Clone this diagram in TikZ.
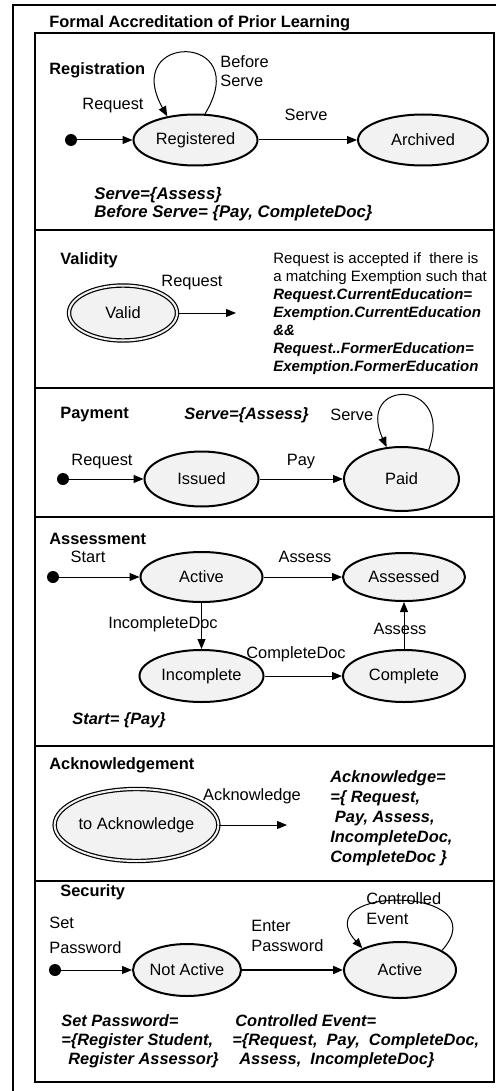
\documentclass[tikz,border=0pt]{standalone}
\usepackage{fontspec}
\setmainfont{Liberation Sans}
\usetikzlibrary{arrows.meta,shapes.geometric}

\definecolor{stategray}{RGB}{242,242,242}
\newcommand{\tfont}[1]{\fontsize{8.2}{#1}\selectfont}

\tikzset{
  state/.style={ellipse, draw, line width=1pt, fill=stategray, inner sep=0pt},
  final/.style={ellipse, draw, line width=0.6pt, double=stategray, double distance=1pt, fill=stategray, inner sep=0pt},
  initdot/.style={circle, fill=black, inner sep=0pt, minimum size=6pt},
  arr/.style={-{Triangle[length=5pt,width=4pt]}, line width=0.5pt},
  heading/.style={font=\tfont{9.5}\bfseries, anchor=west, inner sep=0pt},
  lbl/.style={inner sep=0pt},
  rule/.style={font=\tfont{9}\bfseries\itshape, anchor=west, inner sep=0pt, align=left},
}

\begin{document}
\begin{tikzpicture}[x=0.5pt,y=-0.5pt,font=\tfont{9.5}]
\useasboundingbox (0,0) rectangle (496,1091);
% frames
\draw[line width=0.6pt] (13,1100) -- (13,5) -- (510,5);
\draw[line width=0.6pt] (35,33) rectangle (494,1082);
\foreach \y in {230,388,517,746,881}
  \draw[line width=0.6pt] (35,\y) -- (494,\y);
\node[heading] (title) at (49,23) {Formal Accreditation of Prior Learning};

% registration
\node[heading] (hreg) at (49,70) {Registration};
\node[initdot] (regstart) at (71,140) {};
\node[state, minimum width=62pt, minimum height=25.5pt] (reg) at (195.5,140) {Registered};
\node[state, minimum width=65pt, minimum height=25.5pt] (arch) at (423,140) {Archived};
\draw[arr] (regstart) -- (reg);
\draw[arr] (reg) -- (arch);
\draw[arr] (reg.70) .. controls (255,32) and (120,32) .. (reg.140);
\node[lbl] (lreq) at (113,106) {Request};
\node[lbl] (lserve) at (306,115) {Serve};
\node[lbl, anchor=north west, align=left] (lbefore) at (220,55) {Before\\Serve};
\node[rule, font=\fontsize{8.4}{7.5}\selectfont\bfseries\itshape, anchor=north west] (rreg) at (94,187) {Serve=\{Assess\}\\Before Serve= \{Pay, CompleteDoc\}};

% validity
\node[heading] (hval) at (60,260) {Validity};
\node[final, minimum width=54pt, minimum height=27.5pt] (valid) at (123,313) {Valid};
\coordinate (validend) at (236,313);
\draw[arr] (valid) -- (validend);
\node[lbl] (lvreq) at (192,283) {Request};
\node[lbl, anchor=north west, align=left, font=\fontsize{7.5}{9}\selectfont] (cond) at (273,252)
  {Request is accepted if\ \ there is\\a matching Exemption such that\\
   {\bfseries\itshape Request.CurrentEducation=}\\
   {\bfseries\itshape Exemption.CurrentEducation}\\
   {\bfseries\itshape \&\&}\\
   {\bfseries\itshape Request..FormerEducation=}\\
   {\bfseries\itshape Exemption.FormerEducation}};

% payment
\node[heading] (hpay) at (60,415) {Payment};
\node[rule] (rpay) at (184,415) {Serve=\{Assess\}};
\node[lbl, anchor=west] (lpserve) at (330,415) {Serve};
\node[initdot] (paystart) at (63,479) {};
\node[state, minimum width=57pt, minimum height=27.5pt] (issued) at (201.5,479) {Issued};
\node[state, minimum width=57.5pt, minimum height=32pt] (paid) at (401.5,479) {Paid};
\draw[arr] (paystart) -- (issued);
\draw[arr] (issued) -- (paid);
\draw[arr] (paid.47) .. controls (455,378) and (355,378) .. (paid.115);
\node[lbl] (lpreq) at (102,462) {Request};
\node[lbl] (lpay) at (301,462) {Pay};

% assessment
\node[heading] (hass) at (49,539) {Assessment};
\node[lbl] (lstart) at (88,557) {Start};
\node[initdot] (asstart) at (53,577) {};
\node[state, minimum width=61pt, minimum height=25pt] (active) at (201.5,577) {Active};
\node[state, minimum width=61pt, minimum height=24pt] (assessed) at (404,577) {Assessed};
\node[state, minimum width=62pt, minimum height=26pt] (incomplete) at (201.5,676) {Incomplete};
\node[state, minimum width=61pt, minimum height=26pt] (complete) at (404,676) {Complete};
\draw[arr] (asstart) -- (active);
\draw[arr] (active) -- (assessed);
\draw[arr] (active) -- (incomplete);
\draw[arr] (incomplete) -- (complete);
\draw[arr] (complete) -- (assessed);
\node[lbl] (lassess) at (305,557) {Assess};
\node[lbl] (lincdoc) at (163,624) {IncompleteDoc};
\node[lbl] (lcompdoc) at (296,654) {CompleteDoc};
\node[lbl] (lassess2) at (400,629) {Assess};
\node[rule] (rass) at (72,720) {Start= \{Pay\}};

% acknowledgement
\node[heading] (hack) at (49,765) {Acknowledgement};
\node[final, minimum width=71pt, minimum height=36pt] (toack) at (136.5,825) {to Acknowledge};
\coordinate (ackend) at (287,825);
\draw[arr] (toack) -- (ackend);
\node[lbl] (lack) at (252,796) {Acknowledge};
\node[rule, font=\tfont{10}\bfseries\itshape, anchor=north west] (rack) at (330,770)
  {Acknowledge=\\=\{ Request,\\\ Pay, Assess,\\IncompleteDoc,\\CompleteDoc \}};

% security
\node[heading] (hsec) at (60,892) {Security};
\node[lbl, anchor=north west, align=left, font=\tfont{12.5}] (lsetpw) at (49,917) {Set\\Password};
\node[initdot] (secstart) at (55,970) {};
\node[state, minimum width=54pt, minimum height=26pt] (notact) at (187,970) {Not Active};
\node[state, minimum width=56pt, minimum height=28pt] (act) at (400,970) {Active};
\draw[arr] (secstart) -- (notact);
\draw[arr, line width=1pt] (notact) -- (act);
\draw[arr] (act.25) .. controls (500,885) and (305,885) .. (act.150);
\node[lbl, anchor=north west, align=left, font=\tfont{10}] (lenter) at (251,920) {Enter\\Password};
\node[lbl, anchor=north west, align=left, font=\tfont{10}] (lctrl) at (366,892) {Controlled\\Event};
\node[rule, font=\tfont{9.5}\bfseries\itshape, anchor=north west] (rsetpw) at (61,1014)
  {Set Password=\\=\{Register Student,\\\hspace*{3.5pt}Register Assessor\}};
\node[rule, font=\tfont{9.5}\bfseries\itshape, anchor=north west] (rctrl) at (232,1014)
  {\hspace*{1.5pt}Controlled Event=\\=\{Request,\ \ Pay,\ \ CompleteDoc,\\\hspace*{3.5pt}Assess,\ \ IncompleteDoc\}};
\end{tikzpicture}
\end{document}
